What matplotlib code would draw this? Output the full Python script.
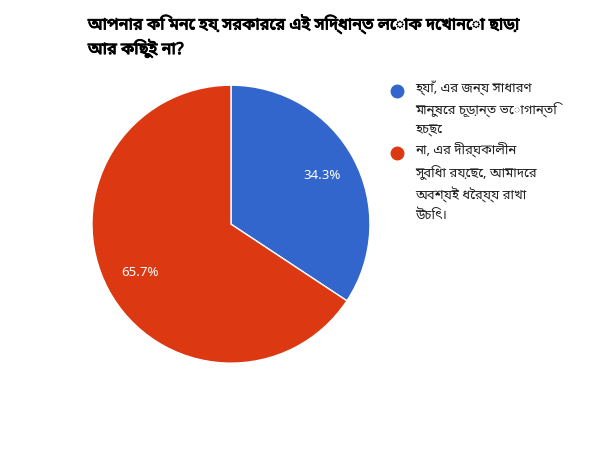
import matplotlib.pyplot as plt
import matplotlib.patheffects as pe
from matplotlib.lines import Line2D

labels = ['হ্যাঁ, এর জন্য সাধারণ\nমানুষের চূড়ান্ত ভোগান্তি\nহচ্ছে',
          'না, এর দীর্ঘকালীন\nসুবিধা রয়েছে, আমাদের\nঅবশ্যই ধৈর্য্য রাখা\nউচিৎ।']
values = [34.3, 65.7]
colors = ['#3366CC', '#DC3912']
title = 'আপনার কি মনে হয় সরকারের এই সিদ্ধান্ত লোক দেখানো ছাড়া\nআর কিছুই না?'

plt.rcParams['font.family'] = ['Noto Sans Bengali', 'Noto Serif Bengali', 'Lohit Bengali',
                               'FreeSans', 'Noto Sans', 'DejaVu Sans']

fig = plt.figure(figsize=(6, 4.5), dpi=100)
ax = fig.add_axes([0.1533, 0.193, 0.4633, 0.6178])
wedges, texts, autotexts = ax.pie(values, colors=colors, startangle=90, counterclock=False,
                                  autopct='%.1f%%', pctdistance=0.74,
                                  wedgeprops={'edgecolor': 'white', 'linewidth': 1})
for t in autotexts:
    t.set_color('white')
    t.set_fontsize(9.5)
ax.set_xlim(-1, 1)
ax.set_ylim(-1, 1)
ax.set_aspect('equal')

# the bengali font has no bold face, so thicken it with a thin stroke
fig.text(88 / 600, 1 - 14 / 450, title, fontsize=11.8, fontweight='bold',
         va='top', ha='left', linespacing=1.3,
         path_effects=[pe.withStroke(linewidth=0.7, foreground='black')])

# legend drawn by hand, text wraps like the original
ys = [91, 153]
for y, lab, c in zip(ys, labels, colors):
    fig.add_artist(Line2D([397 / 600], [1 - y / 450], marker='o', markersize=9,
                          color=c, transform=fig.transFigure))
    fig.text(415 / 600, 1 - (y - 10) / 450, lab, fontsize=9.5, va='top', ha='left',
             linespacing=1.55, color='#222222')

fig.savefig('out.png', dpi=100)
